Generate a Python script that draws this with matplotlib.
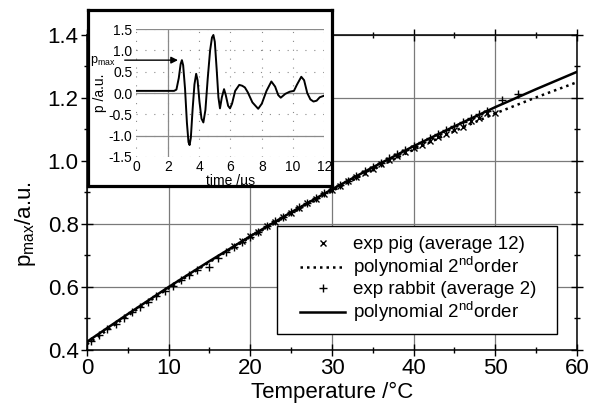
import matplotlib
matplotlib.use("Agg")
import matplotlib.pyplot as plt
from matplotlib.patches import Rectangle
from matplotlib.lines import Line2D
from matplotlib.ticker import MultipleLocator

plt.rcParams["font.family"] = ["Liberation Sans", "DejaVu Sans"]
plt.rcParams["mathtext.fontset"] = "custom"
plt.rcParams["mathtext.rm"] = "Liberation Sans"
plt.rcParams["mathtext.it"] = "Liberation Sans"
plt.rcParams["axes.unicode_minus"] = False

# --- main data (temperature in degC, p_max in a.u.) ---
pig_temp = [18, 19, 20, 21, 22, 23, 24, 25, 26, 27, 28, 29, 30, 31, 32, 33, 34,
            35, 36, 37, 38, 39, 40, 41, 42, 43, 44, 45, 46, 47, 48, 49, 50]
pig_pmax = [0.729, 0.745, 0.761, 0.776, 0.792, 0.807, 0.822, 0.836, 0.851, 0.866,
            0.880, 0.894, 0.908, 0.922, 0.936, 0.950, 0.963, 0.976, 0.989, 1.002,
            1.015, 1.027, 1.040, 1.052, 1.064, 1.075, 1.087, 1.098, 1.109, 1.126,
            1.138, 1.153, 1.151]

rabbit_temp = [0.5, 1.5, 2.5, 3.5, 4.5, 5.5, 6.5, 7.5, 8.5, 9.5, 10.5, 11.5, 12.5,
               13.5, 15, 16, 17, 18, 19, 20, 21, 22, 23, 24, 25, 26, 27, 28, 29, 30,
               31, 32, 33, 34, 35, 36, 37, 38, 39, 40, 41, 42, 43, 44, 45, 46, 47,
               48, 49, 50.8, 52.8]
rabbit_pmax = [0.430, 0.448, 0.466, 0.484, 0.501, 0.519, 0.536, 0.553, 0.570, 0.587,
               0.604, 0.621, 0.638, 0.654, 0.662, 0.692, 0.712, 0.728, 0.744, 0.760,
               0.775, 0.792, 0.808, 0.823, 0.838, 0.853, 0.866, 0.882, 0.897, 0.911,
               0.925, 0.938, 0.953, 0.967, 0.981, 0.994, 1.008, 1.021, 1.034, 1.048,
               1.060, 1.073, 1.086, 1.098, 1.111, 1.123, 1.135, 1.148, 1.160, 1.194,
               1.213]

fit_temp = [0, 5, 10, 15, 20, 25, 30, 35, 40, 45, 50, 55, 60]
fit_pig = [0.418, 0.509, 0.596, 0.679, 0.758, 0.834, 0.905, 0.972, 1.036, 1.095,
           1.151, 1.202, 1.250]
fit_rabbit = [0.426, 0.514, 0.600, 0.682, 0.761, 0.837, 0.910, 0.980, 1.047, 1.110,
              1.171, 1.228, 1.283]

# --- inset signal (time in us, p in a.u.) ---
sig_time = [0.0, 2.4, 2.55, 2.7, 2.82, 2.9, 2.98, 3.1, 3.22, 3.32, 3.39, 3.47, 3.58,
            3.7, 3.81, 3.9, 4.02, 4.15, 4.27, 4.4, 4.55, 4.7, 4.82, 4.91, 5.0, 5.12,
            5.23, 5.33, 5.45, 5.59, 5.7, 5.85, 5.97, 6.1, 6.3, 6.56, 6.75, 6.92, 7.1,
            7.4, 7.77, 8.0, 8.3, 8.61, 8.85, 9.05, 9.21, 9.5, 9.78, 10.05, 10.25,
            10.52, 10.7, 10.9, 11.1, 11.3, 11.5, 11.7, 12.0]
sig_p = [0.05, 0.05, 0.08, 0.35, 0.68, 0.77, 0.65, 0.1, -0.7, -1.15, -1.22, -1.05,
         -0.4, 0.2, 0.45, 0.3, -0.2, -0.6, -0.69, -0.4, 0.35, 1.0, 1.3, 1.36, 1.2,
         0.55, -0.1, -0.36, -0.1, 0.09, -0.05, -0.3, -0.36, -0.25, 0.05, 0.19, 0.17,
         0.13, 0.02, -0.22, -0.37, -0.25, 0.05, 0.27, 0.15, -0.05, -0.11, -0.02, 0.03,
         0.05, 0.2, 0.38, 0.3, 0.0, -0.15, -0.2, -0.18, -0.1, -0.06]
pmax_time, pmax_val = 2.9, 0.77

fig = plt.figure(figsize=(5.97, 4.08), dpi=100)
ax = fig.add_axes([0.1457, 0.1422, 0.8208, 0.7721])

ax.plot(fit_temp, fit_pig, color="black", lw=1.8, linestyle=(0, (1, 1.6)), zorder=3)
ax.plot(fit_temp, fit_rabbit, color="black", lw=1.8, zorder=3)
ax.plot(pig_temp, pig_pmax, ls="none", marker="x", ms=5, mew=1.0, color="black", zorder=4)
ax.plot(rabbit_temp, rabbit_pmax, ls="none", marker="+", ms=6, mew=1.0, color="black", zorder=4)

ax.set_xlim(0, 60)
ax.set_ylim(0.4, 1.4)
ax.xaxis.set_major_locator(MultipleLocator(10))
ax.xaxis.set_minor_locator(MultipleLocator(5))
ax.yaxis.set_major_locator(MultipleLocator(0.2))
ax.yaxis.set_minor_locator(MultipleLocator(0.1))
ax.yaxis.set_major_formatter(plt.FormatStrFormatter("%.1f"))
ax.grid(which="major", color="#7a7a7a", lw=0.9)
ax.tick_params(which="both", direction="inout", labelsize=16, width=1.0,
               top=True, right=True, pad=2)
ax.tick_params(which="major", length=8)
ax.tick_params(which="minor", length=5)
for s in ax.spines.values():
    s.set_linewidth(1.1)

ax.set_xlabel("Temperature /°C", fontsize=16, labelpad=2)
ax.set_ylabel(r"p$_{\mathrm{max}}$/a.u.", fontsize=16)
ax.yaxis.set_label_coords(-0.1, 0.40)

# legend with a hand-placed frame
ax.add_patch(Rectangle((0.388, 0.051), 0.571, 0.343, transform=ax.transAxes,
                       facecolor="white", edgecolor="black", lw=1.0, zorder=5))
handles = [
    Line2D([], [], ls="none", marker="x", ms=5, mew=1.0, color="black"),
    Line2D([], [], color="black", lw=1.8, linestyle=(0, (1, 1.6))),
    Line2D([], [], ls="none", marker="+", ms=6, mew=1.0, color="black"),
    Line2D([], [], color="black", lw=1.8),
]
labels = ["exp pig (average 12)", r"polynomial 2$^{\mathrm{nd}}$order",
          "exp rabbit (average 2)", r"polynomial 2$^{\mathrm{nd}}$order"]
leg = ax.legend(handles, labels, loc="center", bbox_to_anchor=(0.676, 0.222),
                frameon=False, fontsize=13.5, handlelength=2.4, handletextpad=0.4,
                labelspacing=0.1, borderpad=0.2)
leg.set_zorder(6)

# inset: frame + inner plot
frame = fig.add_axes([0.1474, 0.5441, 0.4087, 0.4314])
frame.set_xticks([])
frame.set_yticks([])
frame.set_facecolor("white")
for s in frame.spines.values():
    s.set_linewidth(2.3)

ins = fig.add_axes([0.2286, 0.6152, 0.3149, 0.3137])
ins.patch.set_alpha(0)
for s in ins.spines.values():
    s.set_visible(False)
ins.set_xlim(0, 12)
ins.set_ylim(-1.5, 1.5)
ins.xaxis.set_major_locator(MultipleLocator(2))
ins.yaxis.set_major_locator(MultipleLocator(0.5))
ins.yaxis.set_major_formatter(plt.FormatStrFormatter("%.1f"))
ins.grid(which="major", color="#8a8a8a", lw=0.8, linestyle=(0, (1, 7)))
ins.tick_params(length=0, labelsize=10)
ins.tick_params(axis="x", pad=2.5)
ins.tick_params(axis="y", pad=3)
for yv in [1.5, 0.0, -1.0]:
    ins.axhline(yv, color="#8a8a8a", lw=0.9, zorder=1)
ins.axvline(2, color="#8a8a8a", lw=0.9, zorder=1)
ins.plot(sig_time, sig_p, color="black", lw=1.4, zorder=3)
ins.set_xlabel("time /µs", fontsize=10, labelpad=0)
ins.set_ylabel("p /a.u.", fontsize=10, labelpad=1)
ins.annotate("", xy=(pmax_time - 0.25, pmax_val), xytext=(-0.75, pmax_val),
             arrowprops=dict(arrowstyle="-|>", color="black", lw=1.0,
                             mutation_scale=10, shrinkA=0, shrinkB=0),
             annotation_clip=False)
ins.text(-2.95, pmax_val - 0.02, r"p$_{\mathrm{max}}$", fontsize=9, ha="left",
         va="center", clip_on=False)

fig.savefig("out.png", dpi=100)
